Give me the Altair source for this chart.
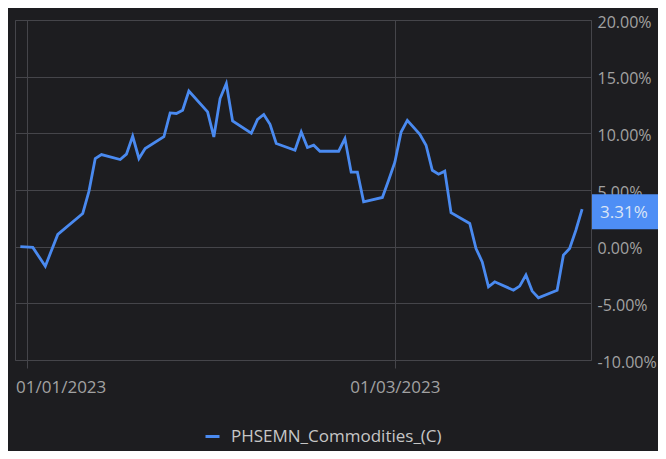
import altair as alt
import pandas as pd

# ---- data ----
dates = [
    "2022-12-31", "2023-01-02", "2023-01-04", "2023-01-06", "2023-01-10", "2023-01-11",
    "2023-01-12", "2023-01-13", "2023-01-16", "2023-01-17", "2023-01-18", "2023-01-19",
    "2023-01-20", "2023-01-23", "2023-01-24", "2023-01-25", "2023-01-26", "2023-01-27",
    "2023-01-30", "2023-01-31", "2023-02-01", "2023-02-02", "2023-02-03", "2023-02-06",
    "2023-02-07", "2023-02-08", "2023-02-09", "2023-02-10", "2023-02-13", "2023-02-14",
    "2023-02-15", "2023-02-16", "2023-02-17", "2023-02-20", "2023-02-21", "2023-02-22",
    "2023-02-23", "2023-02-24", "2023-02-27", "2023-02-28", "2023-03-01", "2023-03-02",
    "2023-03-03", "2023-03-05", "2023-03-06", "2023-03-07", "2023-03-08", "2023-03-09",
    "2023-03-10", "2023-03-13", "2023-03-14", "2023-03-15", "2023-03-16", "2023-03-17",
    "2023-03-20", "2023-03-21", "2023-03-22", "2023-03-23", "2023-03-24", "2023-03-27",
    "2023-03-28", "2023-03-29", "2023-03-30", "2023-03-31",
]
perf = [
    0.00, -0.07, -1.72, 1.08, 2.93, 4.90,
    7.78, 8.13, 7.69, 8.16, 9.74, 7.78,
    8.66, 9.70, 11.80, 11.75, 12.04, 13.74,
    11.89, 9.68, 13.07, 14.39, 11.09, 10.01,
    11.22, 11.66, 10.80, 9.10, 8.51, 10.12,
    8.75, 8.95, 8.42, 8.42, 9.54, 6.57,
    6.57, 3.95, 4.34, 5.86, 7.45, 10.12,
    11.15, 9.92, 8.95, 6.74, 6.39, 6.66,
    3.00, 2.05, -0.16, -1.34, -3.54, -3.10,
    -3.84, -3.48, -2.51, -3.92, -4.51, -3.84,
    -0.75, -0.16, 1.45, 3.31,
]
series_name = "PHSEMN_Commodities_(C)"
y_ticks = [-10, -5, 0, 5, 10, 15, 20]

df = pd.DataFrame({"date": dates, "perf": perf, "series": series_name})
last = df.tail(1).copy()
last["label"] = [f"{v:.2f}%" for v in last["perf"]]

BG = "#1d1d20"
GRID = "#45454a"
LABEL = "#a2a2a2"
BLUE = "#4a8af0"
BOX = "#4e8ef5"
FONT = "Open Sans"

x_scale = alt.Scale(
    type="utc",
    domain=[
        alt.DateTime(year=2022, month=12, date=30, hours=3, minutes=30, utc=True),
        alt.DateTime(year=2023, month=4, date=1, hours=10, minutes=10, utc=True),
    ],
)
y_scale = alt.Scale(domain=[-10, 20], nice=False, zero=False)

x_axis = alt.Axis(
    values=[
        alt.DateTime(year=2023, month=1, date=1, utc=True),
        alt.DateTime(year=2023, month=3, date=1, utc=True),
    ],
    labelExpr="utcFormat(datum.value, '%d/%m/%Y')",
    labelFlush=20,
    labelFlushOffset=11,
    tickSize=8,
    tickColor=GRID,
    domain=False,
    grid=True,
    gridColor=GRID,
    labelColor=LABEL,
    labelFont=FONT,
    labelFontSize=17,
    labelPadding=11,
    title=None,
    zindex=0,
)
y_axis = alt.Axis(
    orient="right",
    values=y_ticks,
    labelExpr="(datum.value < 0 ? '-' : '') + format(abs(datum.value), '.2f') + '%'",
    ticks=False,
    domain=False,
    grid=True,
    gridColor=GRID,
    labelColor=LABEL,
    labelFont=FONT,
    labelFontSize=16,
    labelPadding=6,
    labelBaseline="middle",
    labelOffset=2,
    title=None,
    zindex=0,
)

line = alt.Chart(df).mark_line(strokeWidth=2.8).encode(
    x=alt.X("date:T", scale=x_scale, axis=x_axis),
    y=alt.Y("perf:Q", scale=y_scale, axis=y_axis),
    color=alt.Color(
        "series:N",
        scale=alt.Scale(range=[BLUE]),
        legend=alt.Legend(
            title=None,
            orient="none",
            legendX=189,
            legendY=408,
            symbolType="stroke",
            symbolSize=196,
            symbolStrokeWidth=3,
            labelColor="#c6c6c6",
            labelFont=FONT,
            labelFontSize=17,
            labelOffset=10,
            labelLimit=500,
            padding=0,
        ),
    ),
)

box = alt.Chart(last).mark_rect(color=BOX, yOffset=-15, y2Offset=20).encode(
    x=alt.value(577),
    x2=alt.value(700),
    y=alt.Y("perf:Q", scale=y_scale),
    y2="perf",
)

txt = alt.Chart(last).mark_text(
    align="left", baseline="middle", dy=4, font=FONT, fontSize=17, color="#dbe5f6"
).encode(
    x=alt.value(585),
    y=alt.Y("perf:Q", scale=y_scale),
    text="label:N",
)

chart = (
    alt.layer(line, box, txt)
    .properties(
        width=576,
        height=340,
        padding={"left": 7, "top": 12, "right": 67, "bottom": 91},
        autosize=alt.AutoSizeParams(type="none"),
    )
    .configure(background=BG)
    .configure_view(stroke=GRID, strokeWidth=1, fill=BG)
)

chart.save("out.html", embed_options={"renderer": "svg", "actions": False})
